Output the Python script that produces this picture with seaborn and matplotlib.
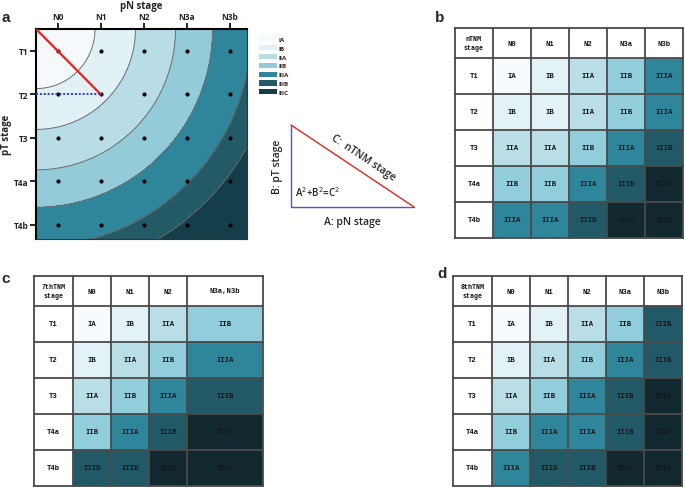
import numpy as np
import pandas as pd
import matplotlib
matplotlib.use('Agg')
import matplotlib.pyplot as plt
import seaborn as sns
from matplotlib.colors import ListedColormap
from matplotlib.patches import Patch

sns.set_theme(style='white')
plt.rcParams['font.family'] = ['Open Sans', 'DejaVu Sans']

# ---------------- data ----------------
stages = ['IA', 'IB', 'IIA', 'IIB', 'IIIA', 'IIIB', 'IIIC']
stage_colors = ['#f6fafc', '#e2f1f6', '#b8dde7', '#93cbd9', '#2f8599', '#225a66', '#143f4a']
table_colors = ['#f8fbfd', '#e3f2f7', '#b9dee8', '#92cddb', '#2f869b', '#215a66', '#12292f']
n_stages = ['N0', 'N1', 'N2', 'N3a', 'N3b']
t_stages = ['T1', 'T2', 'T3', 'T4a', 'T4b']
stage_radii = [1.37, 2.31, 3.24, 4.10, 5.00, 5.60]   # contour boundaries (grid units)

ntnm_values = [
    ['IA', 'IB', 'IIA', 'IIB', 'IIIA'],
    ['IB', 'IB', 'IIA', 'IIB', 'IIIA'],
    ['IIA', 'IIA', 'IIB', 'IIIA', 'IIIB'],
    ['IIB', 'IIB', 'IIIA', 'IIIB', 'IIIC'],
    ['IIIA', 'IIIA', 'IIIB', 'IIIC', 'IIIC'],
]
tnm7_cols = ['N0', 'N1', 'N2', 'N3a,N3b']
tnm7_values = [
    ['IA', 'IB', 'IIA', 'IIB'],
    ['IB', 'IIA', 'IIB', 'IIIA'],
    ['IIA', 'IIB', 'IIIA', 'IIIB'],
    ['IIB', 'IIIA', 'IIIB', 'IIIC'],
    ['IIIB', 'IIIB', 'IIIC', 'IIIC'],
]
tnm8_values = [
    ['IA', 'IB', 'IIA', 'IIB', 'IIIB'],
    ['IB', 'IIA', 'IIB', 'IIIA', 'IIIB'],
    ['IIA', 'IIB', 'IIIA', 'IIIB', 'IIIC'],
    ['IIB', 'IIIA', 'IIIA', 'IIIB', 'IIIC'],
    ['IIIA', 'IIIB', 'IIIB', 'IIIC', 'IIIC'],
]

# ---------------- figure ----------------
W, H = 685, 489
fig = plt.figure(figsize=(W / 100, H / 100), dpi=100)


def px_axes(x0, y0, x1, y1):
    return fig.add_axes([x0 / W, 1 - y1 / H, (x1 - x0) / W, (y1 - y0) / H])


ov = fig.add_axes([0, 0, 1, 1])
ov.set_xlim(0, W)
ov.set_ylim(H, 0)
ov.axis('off')

# ---------------- panel a ----------------
ax = px_axes(36, 30, 247, 240)
gx = np.linspace(0.5, 5.4, 600)
gy = np.linspace(0.5, 5.33, 600)
X, Y = np.meshgrid(gx, gy)
Z = np.hypot(X - 0.5, Y - 0.5)
ax.contourf(X, Y, Z, levels=[0] + stage_radii + [50], colors=stage_colors)
ax.contour(X, Y, Z, levels=stage_radii, colors='#707070', linewidths=0.7)
grid = pd.DataFrame([(i + 1, j + 1) for j in range(5) for i in range(5)], columns=['pN', 'pT'])
sns.scatterplot(data=grid, x='pN', y='pT', color='black', s=9, linewidth=0, ax=ax, zorder=5)
ax.plot([0.5, 2], [0.5, 2], color='#e8231f', lw=1.6, zorder=6)
ax.plot([0.5, 2], [2, 2], color='#2b3bd6', lw=1.4, ls=(0, (1, 1)), zorder=6)
ax.set_xlim(0.5, 5.4)
ax.set_ylim(5.33, 0.5)
ax.xaxis.tick_top()
ax.xaxis.set_label_position('top')
ax.set_xticks(range(1, 6), n_stages)
ax.set_yticks(range(1, 6), t_stages)
ax.tick_params(axis='both', which='both', length=4, width=1.2, color='black', direction='out',
               labelsize=6, pad=1.5)
ax.tick_params(axis='x', top=True, bottom=False)
ax.tick_params(axis='y', left=True)
for lab in ax.get_xticklabels() + ax.get_yticklabels():
    lab.set_fontweight('bold')
ax.set_xlabel('pN stage', fontsize=7, fontweight='bold', va='center')
ax.set_ylabel('pT stage', fontsize=7, fontweight='bold', va='center')
ax.xaxis.set_label_coords(0.5, 1 + 24 / 210)
ax.yaxis.set_label_coords(-30 / 211, 0.5)
for s in ['left', 'top']:
    ax.spines[s].set_linewidth(1.5)
    ax.spines[s].set_color('black')
for s in ['right', 'bottom']:
    ax.spines[s].set_linewidth(0.8)
    ax.spines[s].set_color('#333333')

# legend
handles = [Patch(facecolor=c, edgecolor='none', label=s) for s, c in zip(stages, stage_colors)]
leg = fig.legend(handles=handles, loc='upper left', bbox_to_anchor=(259 / W, 1 - 37 / H),
                 frameon=False, fontsize=4.5, handlelength=2.8, handleheight=0.9,
                 labelspacing=0.5, handletextpad=0.3, borderpad=0, borderaxespad=0)
for t in leg.get_texts():
    t.set_color('#3a1f1f')
    t.set_fontweight('bold')

# triangle
ov.plot([291, 291, 414], [126, 208, 208], color='#4b56d0', lw=1.0)
ov.plot([291, 414], [126, 208], color='#e8231f', lw=1.0)
ov.text(278, 167, 'B: pT stage', rotation=90, ha='center', va='center', fontsize=7.5, fontweight='semibold')
ov.text(352, 222, 'A: pN stage', ha='center', va='center', fontsize=7.5, fontweight='semibold')
ov.text(363, 158, 'C:  nTNM stage', rotation=-33.7, ha='center', va='center', fontsize=7.5,
        fontweight='semibold', rotation_mode='anchor')
ov.text(318, 193, 'A$^2$+B$^2$=C$^2$', ha='center', va='center', fontsize=7, fontweight='semibold')

# panel letters
for lab, x, y in [('a', 6, 18), ('b', 440, 18), ('c', 6, 279), ('d', 442, 274)]:
    ov.text(x, y, lab, fontsize=11, fontweight='bold', ha='center', va='center',
            family=['Liberation Sans', 'DejaVu Sans'])

# ---------------- tables ----------------
cmap = ListedColormap(table_colors)
mono = ['Liberation Mono', 'DejaVu Sans Mono']


def draw_table(box, hdr_w, hdr_h, corner, col_labels, values, col_units):
    x0, y0, x1, y1 = box
    tax = px_axes(x0, y0, x1, y1)
    codes = []
    for row in values:
        r = []
        for v, u in zip(row, col_units):
            r += [stages.index(v)] * u
        codes.append(r)
    df = pd.DataFrame(codes)
    ncol = df.shape[1]
    sns.heatmap(df, cmap=cmap, vmin=-0.5, vmax=6.5, cbar=False, linewidths=0,
                xticklabels=False, yticklabels=False, ax=tax)
    unit_px = (x1 - x0) / ncol
    row_px = (y1 - y0) / 5
    hw = hdr_w / unit_px
    hh = hdr_h / row_px
    edges = np.concatenate([[0], np.cumsum(col_units)])
    lc = '#4a4a4a'
    for e in np.concatenate([[-hw], edges]):
        tax.plot([e, e], [-hh, 5], color=lc, lw=1.3, clip_on=False, solid_capstyle='projecting')
    for r in np.concatenate([[-hh], np.arange(6)]):
        tax.plot([-hw, ncol], [r, r], color=lc, lw=1.3, clip_on=False, solid_capstyle='projecting')
    fs = 5.2
    tax.text(-hw / 2, -hh / 2, corner, ha='center', va='center', fontsize=4.8,
             fontweight='bold', family=mono, linespacing=1.3, color='#111111')
    for j, lab in enumerate(col_labels):
        cx = (edges[j] + edges[j + 1]) / 2
        tax.text(cx, -hh / 2, lab, ha='center', va='center', fontsize=fs, fontweight='bold',
                 family=mono, color='#111111')
    for i, lab in enumerate(t_stages):
        tax.text(-hw / 2, i + 0.5, lab, ha='center', va='center', fontsize=fs, fontweight='bold',
                 family=mono, color='#111111')
        for j, v in enumerate(values[i]):
            cx = (edges[j] + edges[j + 1]) / 2
            tax.text(cx, i + 0.5, v, ha='center', va='center', fontsize=fs, fontweight='bold',
                     family=mono, color='#151515')
    tax.set_xlim(0, ncol)
    tax.set_ylim(5, 0)
    for s in tax.spines.values():
        s.set_visible(False)
    return tax


draw_table((493, 59, 683, 239), 38, 30, 'nTNM\nstage', n_stages, ntnm_values, [1, 1, 1, 1, 1])
draw_table((73, 307, 263, 487), 39, 30, '7thTNM\nstage', tnm7_cols, tnm7_values, [1, 1, 1, 2])
draw_table((492, 307, 682, 487), 39, 30, '8thTNM\nstage', n_stages, tnm8_values, [1, 1, 1, 1, 1])

fig.savefig('out.png', dpi=100)
